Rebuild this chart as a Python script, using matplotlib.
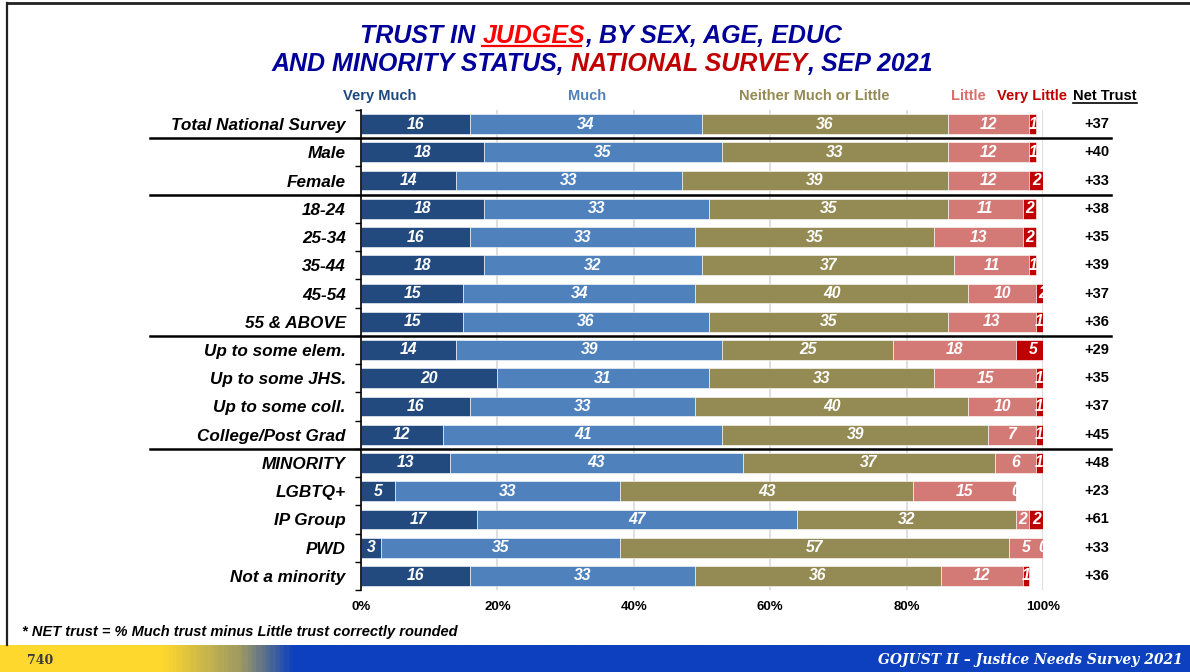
import numpy as np
import matplotlib
matplotlib.use("Agg")
import matplotlib.pyplot as plt
from matplotlib.colors import LinearSegmentedColormap
from matplotlib.lines import Line2D
from matplotlib.transforms import blended_transform_factory

# ---- data -------------------------------------------------------------
categories = ['Total National Survey', 'Male', 'Female', '18-24', '25-34',
              '35-44', '45-54', '55 & ABOVE', 'Up to some elem.',
              'Up to some JHS.', 'Up to some coll.', 'College/Post Grad',
              'MINORITY', 'LGBTQ+', 'IP Group', 'PWD', 'Not a minority']
very_much = [16, 18, 14, 18, 16, 18, 15, 15, 14, 20, 16, 12, 13, 5, 17, 3, 16]
much = [34, 35, 33, 33, 33, 32, 34, 36, 39, 31, 33, 41, 43, 33, 47, 35, 33]
neither = [36, 33, 39, 35, 35, 37, 40, 35, 25, 33, 40, 39, 37, 43, 32, 57, 36]
little = [12, 12, 12, 11, 13, 11, 10, 13, 18, 15, 10, 7, 6, 15, 2, 5, 12]
very_little = [1, 1, 2, 2, 2, 1, 2, 1, 5, 1, 1, 1, 1, 0, 2, 0, 1]
net_trust = [37, 40, 33, 38, 35, 39, 37, 36, 29, 35, 37, 45, 48, 23, 61, 33, 36]
series_names = ['Very Much', 'Much', 'Neither Much or Little', 'Little', 'Very Little']
x_ticks = [0, 20, 40, 60, 80, 100]
group_breaks = [0.5, 2.5, 7.5, 11.5]

colors = ['#234A7E', '#4F81BD', '#948A54', '#D47A76', '#C00000']
header_colors = ['#1F497D', '#4F81BD', '#948A54', '#D9706C', '#C00000']

SANS = ['Liberation Sans', 'DejaVu Sans']
NARROW = ['Liberation Sans Narrow', 'Liberation Sans', 'DejaVu Sans']

W, H = 1190, 672
fig = plt.figure(figsize=(W / 100, H / 100), dpi=100)
fig.patch.set_facecolor('white')


def fx(px):
    return px / W


def fy(py):
    return 1 - py / H


# ---- main bar axes ----------------------------------------------------
ax = fig.add_axes([fx(361), fy(590), fx(1043) - fx(361), (590 - 110) / H])
ax.set_xlim(0, 100)
ax.set_ylim(len(categories) - 0.5, -0.5)
ax.set_axisbelow(True)

y = np.arange(len(categories))
stack = [very_much, much, neither, little, very_little]
left = np.zeros(len(categories))
prev_bars = None
for vals, col in zip(stack, colors):
    vals = np.array(vals, dtype=float)
    bars = ax.barh(y, vals, left=left, height=0.7, color=col,
                   edgecolor='white', linewidth=0.4, zorder=2)
    for i, (b, v) in enumerate(zip(bars, vals)):
        t = ax.text(left[i] + v / 2, y[i], f'{int(v)}', ha='center', va='center',
                    color='white', fontsize=11.3, fontweight='bold', style='italic',
                    family=SANS, zorder=3)
        # narrow segments show their number cut off at the bar edge
        clip_bar = b if v > 0 else prev_bars[i]
        t.set_clip_path(clip_bar)
    left += vals
    prev_bars = bars

# gridlines and axes styling
for xv in x_ticks[1:]:
    ax.axvline(xv, color='#D9D9D9', lw=1.2, zorder=0)
for s in ['top', 'right', 'bottom']:
    ax.spines[s].set_visible(False)
ax.spines['left'].set_color('black')
ax.spines['left'].set_linewidth(1.2)
ax.spines['left'].set_zorder(4)

ax.set_xticks(x_ticks)
ax.set_xticklabels([f'{v}%' for v in x_ticks], fontsize=9.5, fontweight='bold',
                   family=SANS)
ax.tick_params(axis='x', length=0, pad=8)

ax.set_yticks(y)
ax.set_yticklabels(categories, fontsize=12.3, fontweight='bold', style='italic',
                   family=SANS)
ax.tick_params(axis='y', which='major', length=0, pad=11)
ax.set_yticks(np.arange(-0.5, len(categories), 1), minor=True)
ax.tick_params(axis='y', which='minor', length=4, width=1, color='black',
               direction='out')

# net trust column
trans_net = blended_transform_factory(fig.transFigure, ax.transData)
for yi, n in zip(y, net_trust):
    ax.text(fx(1097), yi, f'+{n}', transform=trans_net, ha='center', va='center',
            fontsize=10.5, fontweight='bold', family=SANS, color='black')

# group separators
for yb in group_breaks:
    ax.add_line(Line2D([fx(150), fx(1111)], [yb, yb], transform=trans_net,
                       color='black', lw=1.8, clip_on=False, zorder=5))

# ---- header labels ----------------------------------------------------
renderer = fig.canvas.get_renderer()
header_x = [380, 587, 814, 968, 1032]
for name, hx, hc in zip(series_names, header_x, header_colors):
    fig.text(fx(hx), fy(100), name, ha='center', va='baseline', color=hc,
             fontsize=10.5, fontweight='bold', family=NARROW)
nt = fig.text(fx(1105), fy(100), 'Net Trust', ha='center', va='baseline',
              color='black', fontsize=10.5, fontweight='bold', family=NARROW)
bb = nt.get_window_extent(renderer)
fig.add_artist(Line2D([bb.x0 / W, bb.x1 / W], [fy(103), fy(103)],
                      transform=fig.transFigure, color='black', lw=1.2))


# ---- title ------------------------------------------------------------
def text_width(s, **kw):
    t = fig.text(0, 0, s, **kw)
    w = t.get_window_extent(renderer).width
    t.remove()
    return w


def rich_line(pieces, cx, baseline, **kw):
    full = ''.join(p for p, _ in pieces)
    x0 = cx - text_width(full, **kw) / 2
    bar_w = text_width('|', **kw)
    acc = ''
    out = []
    for s, c in pieces:
        off = text_width(acc + '|', **kw) - bar_w if acc else 0
        t = fig.text(fx(x0 + off), fy(baseline), s, color=c, ha='left',
                     va='baseline', **kw)
        out.append(t)
        acc += s
    return out


title_kw = dict(fontsize=18, fontweight='bold', style='italic', family=NARROW)
navy = '#000099'
line1 = rich_line([('TRUST IN ', navy), ('JUDGES', '#FF0000'),
                   (', BY SEX, AGE, EDUC', navy)], 601, 43, **title_kw)
line2 = rich_line([('AND MINORITY STATUS, ', navy), ('NATIONAL SURVEY', '#C00000'),
                   (', SEP 2021', navy)], 601, 71, **title_kw)
jb = line1[1].get_window_extent(renderer)
fig.add_artist(Line2D([jb.x0 / W, jb.x1 / W - 0.003], [fy(46), fy(46)],
                      transform=fig.transFigure, color='#FF0000', lw=1.6))

# ---- footnote ---------------------------------------------------------
fig.text(fx(22), fy(632), '* NET trust = % Much trust minus Little trust correctly rounded',
         ha='left', va='center', fontsize=10.5, fontweight='bold', style='italic',
         family=SANS, color='black')

# ---- frame ------------------------------------------------------------
fig.add_artist(Line2D([fx(7), fx(1190)], [fy(3), fy(3)], transform=fig.transFigure,
                      color='#222222', lw=2))
fig.add_artist(Line2D([fx(7), fx(7)], [fy(3), fy(645)], transform=fig.transFigure,
                      color='#222222', lw=1.6))

# ---- footer band ------------------------------------------------------
fax = fig.add_axes([0, 0, 1, (672 - 645) / H])
fax.set_axis_off()
band = LinearSegmentedColormap.from_list(
    'band', [(0, '#FFD82E'), (0.135, '#FFD82E'), (0.20, '#9E9A62'),
             (0.245, '#0C40BE'), (1, '#0C40BE')])
fax.imshow(np.linspace(0, 1, 600)[None, :], cmap=band, aspect='auto',
           extent=[0, 1, 0, 1])
fax.set_xlim(0, 1)
fax.set_ylim(0, 1)
fig.text(fx(27), fy(660), '740', ha='left', va='center', fontsize=9,
         fontweight='bold', family=['DejaVu Serif'], color='#3A3A3A')
fig.text(fx(1183), fy(660), 'GOJUST II \u2013 Justice Needs Survey 2021', ha='right',
         va='center', fontsize=10, fontweight='bold', style='italic',
         family=['DejaVu Serif'], color='white')

fig.savefig('out.png', dpi=100, facecolor='white')
